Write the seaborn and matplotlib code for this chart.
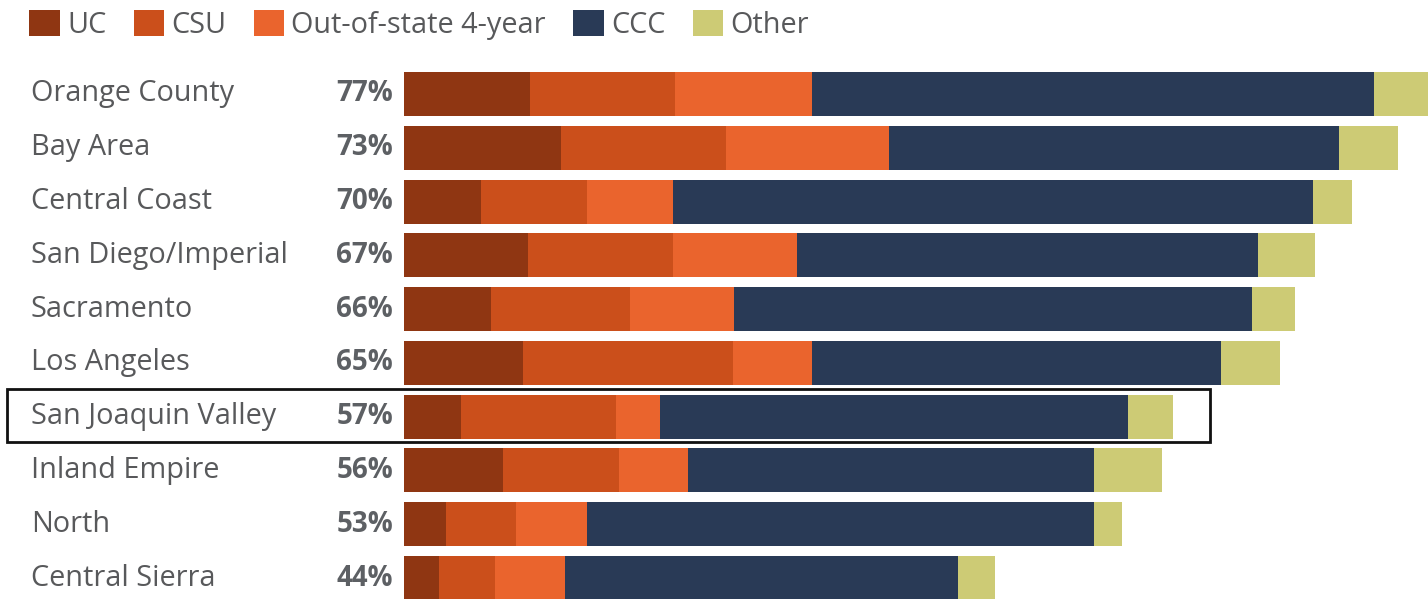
import numpy as np
import pandas as pd
import matplotlib
matplotlib.use("Agg")
import matplotlib.pyplot as plt
import matplotlib.transforms as mtransforms
from matplotlib.patches import Patch, Rectangle
import seaborn as sns

# Data (percent of graduates by destination)
regions = ["Orange County", "Bay Area", "Central Coast", "San Diego/Imperial",
           "Sacramento", "Los Angeles", "San Joaquin Valley", "Inland Empire",
           "North", "Central Sierra"]
rate_labels = ["77%", "73%", "70%", "67%", "66%", "65%", "57%", "56%", "53%", "44%"]
uc = [9.3, 11.6, 5.7, 9.2, 6.4, 8.8, 4.2, 7.3, 3.1, 2.6]
csu = [10.75, 12.2, 7.8, 10.7, 10.3, 15.5, 11.5, 8.6, 5.2, 4.1]
out_of_state = [10.1, 12.05, 6.4, 9.15, 7.7, 5.9, 3.25, 5.1, 5.2, 5.2]
ccc = [41.6, 33.3, 47.3, 34.1, 38.3, 30.2, 34.6, 30.0, 37.5, 29.1]
other = [5.25, 4.4, 2.9, 4.2, 3.2, 4.4, 3.3, 5.1, 2.1, 2.7]
highlight = "San Joaquin Valley"

series = ["UC", "CSU", "Out-of-state 4-year", "CCC", "Other"]
colors = ["#8f3612", "#cb4f1b", "#ea642d", "#293a56", "#cdcb75"]

df = pd.DataFrame({"region": regions, "UC": uc, "CSU": csu,
                   "Out-of-state 4-year": out_of_state, "CCC": ccc, "Other": other})
cum = df[series].cumsum(axis=1)

sns.set_theme(style="white")
plt.rcParams["font.family"] = ["Open Sans", "DejaVu Sans"]

W, H = 1428, 599
fig = plt.figure(figsize=(W / 100, H / 100), dpi=100)
ax = fig.add_axes([404 / W, 0, 1 - 404 / W, 1])

# stacked bars: draw cumulative totals, widest first
for name, col in reversed(list(zip(series, colors))):
    sns.barplot(x=cum[name], y=df["region"], color=col, width=0.82,
                orient="h", ax=ax, linewidth=0, saturation=1)

px_per_unit = 13.52
ax.set_xlim(0, (W - 404) / px_per_unit)
pitch = 53.78
ax.set_ylim(9 + (H - 578) / pitch, -94 / pitch)
ax.axis("off")

# labels on the left
trans = mtransforms.blended_transform_factory(fig.transFigure, ax.transData)
for i, (reg, lab) in enumerate(zip(regions, rate_labels)):
    ax.text(31 / W, i, reg, transform=trans, ha="left", va="center",
            fontsize=20.8, color="#58595b")
    ax.text(393 / W, i, lab, transform=trans, ha="right", va="center",
            fontsize=20, color="#5d6064", fontweight="bold")

# highlight box
hi = regions.index(highlight)
box = Rectangle((7 / W, hi - 0.52), (1210 - 7) / W, 1.0, transform=trans,
                fill=False, edgecolor="#111111", linewidth=2, clip_on=False)
ax.add_patch(box)

handles = [Patch(facecolor=c, edgecolor="none") for c in colors]
fig.legend(handles, series, loc="upper left", bbox_to_anchor=(15 / W, 1.008),
           ncol=5, frameon=False, fontsize=20.8, handlelength=1.05,
           handleheight=1.05, handletextpad=0.25, columnspacing=0.95,
           borderaxespad=0.1, labelcolor="#58595b")

fig.savefig("out.png", dpi=100)
